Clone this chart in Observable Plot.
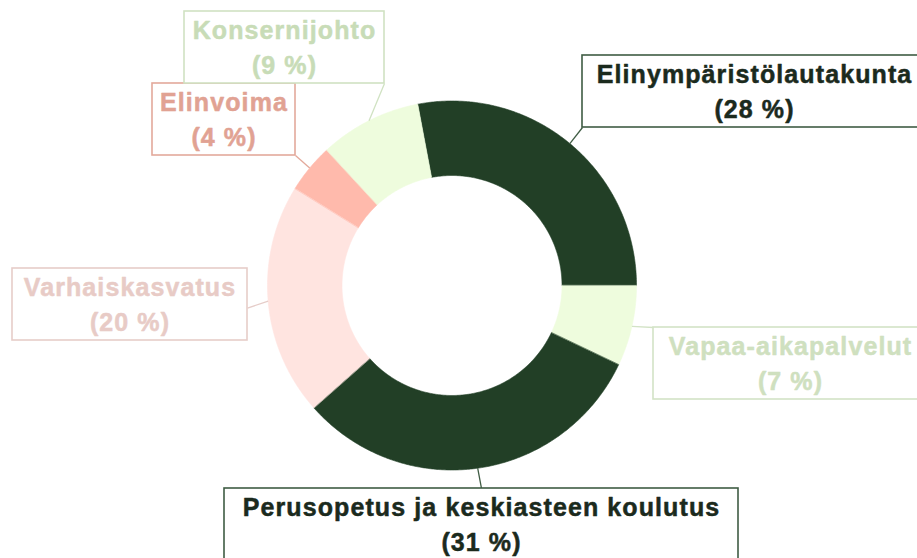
<!DOCTYPE html>
<html><head><meta charset="utf-8">
<script src="https://cdn.jsdelivr.net/npm/d3@7"></script>
<script src="https://cdn.jsdelivr.net/npm/@observablehq/plot@0.6"></script>
<style>
html,body{margin:0;padding:0;background:#fff;}
#chart{width:917px;height:558px;overflow:hidden;}
</style></head><body><div id="chart"></div>
<script>
// ---- data ----
const categories = ["Elinympäristölautakunta", "Vapaa-aikapalvelut", "Perusopetus ja keskiasteen koulutus", "Varhaiskasvatus", "Elinvoima", "Konsernijohto"];
const shares = [28.0, 7.05, 31.4, 20.35, 4.3, 8.9];
const percentLabels = ["28 %", "7 %", "31 %", "20 %", "4 %", "9 %"];

// ---- styles ----
const sliceColors = ["#223F26", "#EEFCDD", "#223F26", "#FFE4E0", "#FFBAAC", "#EEFCDD"];
const labelTextColors = ["#1B2A1D", "#CFE0BF", "#1B2A1D", "#E8CBC6", "#E1A293", "#C8DCB7"];
const labelBorderColors = ["#3F5C44", "#D3E3C6", "#3F5C44", "#E6CDC9", "#E3A99B", "#D0E2C2"];

// ---- layout (pixels) ----
const W = 917, H = 558, CX = 451.5, CY = 285, R = 184.5, INNER = 110 / 184.5, START = -10.7, BOX_H = 72;
// box centre, width, and leader attach point as fraction of the box (0 = left/top, 1 = right/bottom)
const labelLayout = [
  {cx: 754, cy: 91, w: 344, ax: 0, ay: 1},
  {cx: 790, cy: 363, w: 274, ax: 0, ay: 0},
  {cx: 481, cy: 524, w: 514, ax: 0.5, ay: 0},
  {cx: 129.5, cy: 304, w: 235, ax: 1, ay: 0.55},
  {cx: 223.5, cy: 119, w: 143, ax: 1, ay: 1},
  {cx: 284, cy: 47, w: 200, ax: 1, ay: 1}
];

const ux = px => (px - CX) / R;
const uy = py => (CY - py) / R;
const rad = d => d * Math.PI / 180;

const total = d3.sum(shares);
let acc = 0;
const slices = categories.map((name, i) => {
  const a0 = START + acc / total * 360;
  acc += shares[i];
  const a1 = START + acc / total * 360;
  return {name, i, a0, a1, mid: (a0 + a1) / 2};
});

const ringPoints = slices.flatMap(s => {
  const n = Math.max(2, Math.ceil((s.a1 - s.a0) / 0.5));
  const pts = [];
  for (let k = 0; k <= n; k++) {
    const a = rad(s.a0 + (s.a1 - s.a0) * k / n);
    pts.push({name: s.name, x: Math.sin(a), y: Math.cos(a), color: sliceColors[s.i]});
  }
  for (let k = n; k >= 0; k--) {
    const a = rad(s.a0 + (s.a1 - s.a0) * k / n);
    pts.push({name: s.name, x: INNER * Math.sin(a), y: INNER * Math.cos(a), color: sliceColors[s.i]});
  }
  return pts;
});

const boxes = slices.map(s => {
  const b = labelLayout[s.i];
  const left = b.cx - b.w / 2, top = b.cy - BOX_H / 2;
  const a = rad(s.mid);
  return {
    name: s.name,
    x1: ux(left), x2: ux(left + b.w), y1: uy(top), y2: uy(top + BOX_H),
    cx: ux(b.cx), cy: uy(b.cy),
    lx1: Math.sin(a), ly1: Math.cos(a),
    lx2: ux(left + b.ax * b.w), ly2: uy(top + b.ay * BOX_H),
    border: labelBorderColors[s.i], textColor: labelTextColors[s.i],
    label: s.name + "\n(" + percentLabels[s.i] + ")"
  };
});

const chart = Plot.plot({
  width: W, height: H, margin: 0,
  x: {domain: [ux(0), ux(W)], axis: null},
  y: {domain: [uy(H), uy(0)], axis: null},
  color: {type: "identity"},
  style: {background: "#fff", letterSpacing: "1.1px"},
  marks: [
    Plot.line(ringPoints, {x: "x", y: "y", z: "name", fill: "color", stroke: "color", strokeWidth: 0.6, curve: "linear-closed"}),
    Plot.link(boxes, {x1: "lx1", y1: "ly1", x2: "lx2", y2: "ly2", stroke: "border", strokeWidth: 1.3}),
    Plot.rect(boxes, {x1: "x1", x2: "x2", y1: "y1", y2: "y2", fill: "white", stroke: "border", strokeWidth: 1.6}),
    Plot.text(boxes, {x: "cx", y: "cy", dy: -2, text: "label", fill: "textColor", stroke: "textColor", strokeWidth: 0.5,
      fontSize: 25, fontWeight: "bold",
      fontFamily: "'Liberation Sans', Arial, sans-serif", lineHeight: 1.4, lineAnchor: "middle", textAnchor: "middle"})
  ]
});
document.getElementById("chart").appendChild(chart);
</script>
</body></html>
